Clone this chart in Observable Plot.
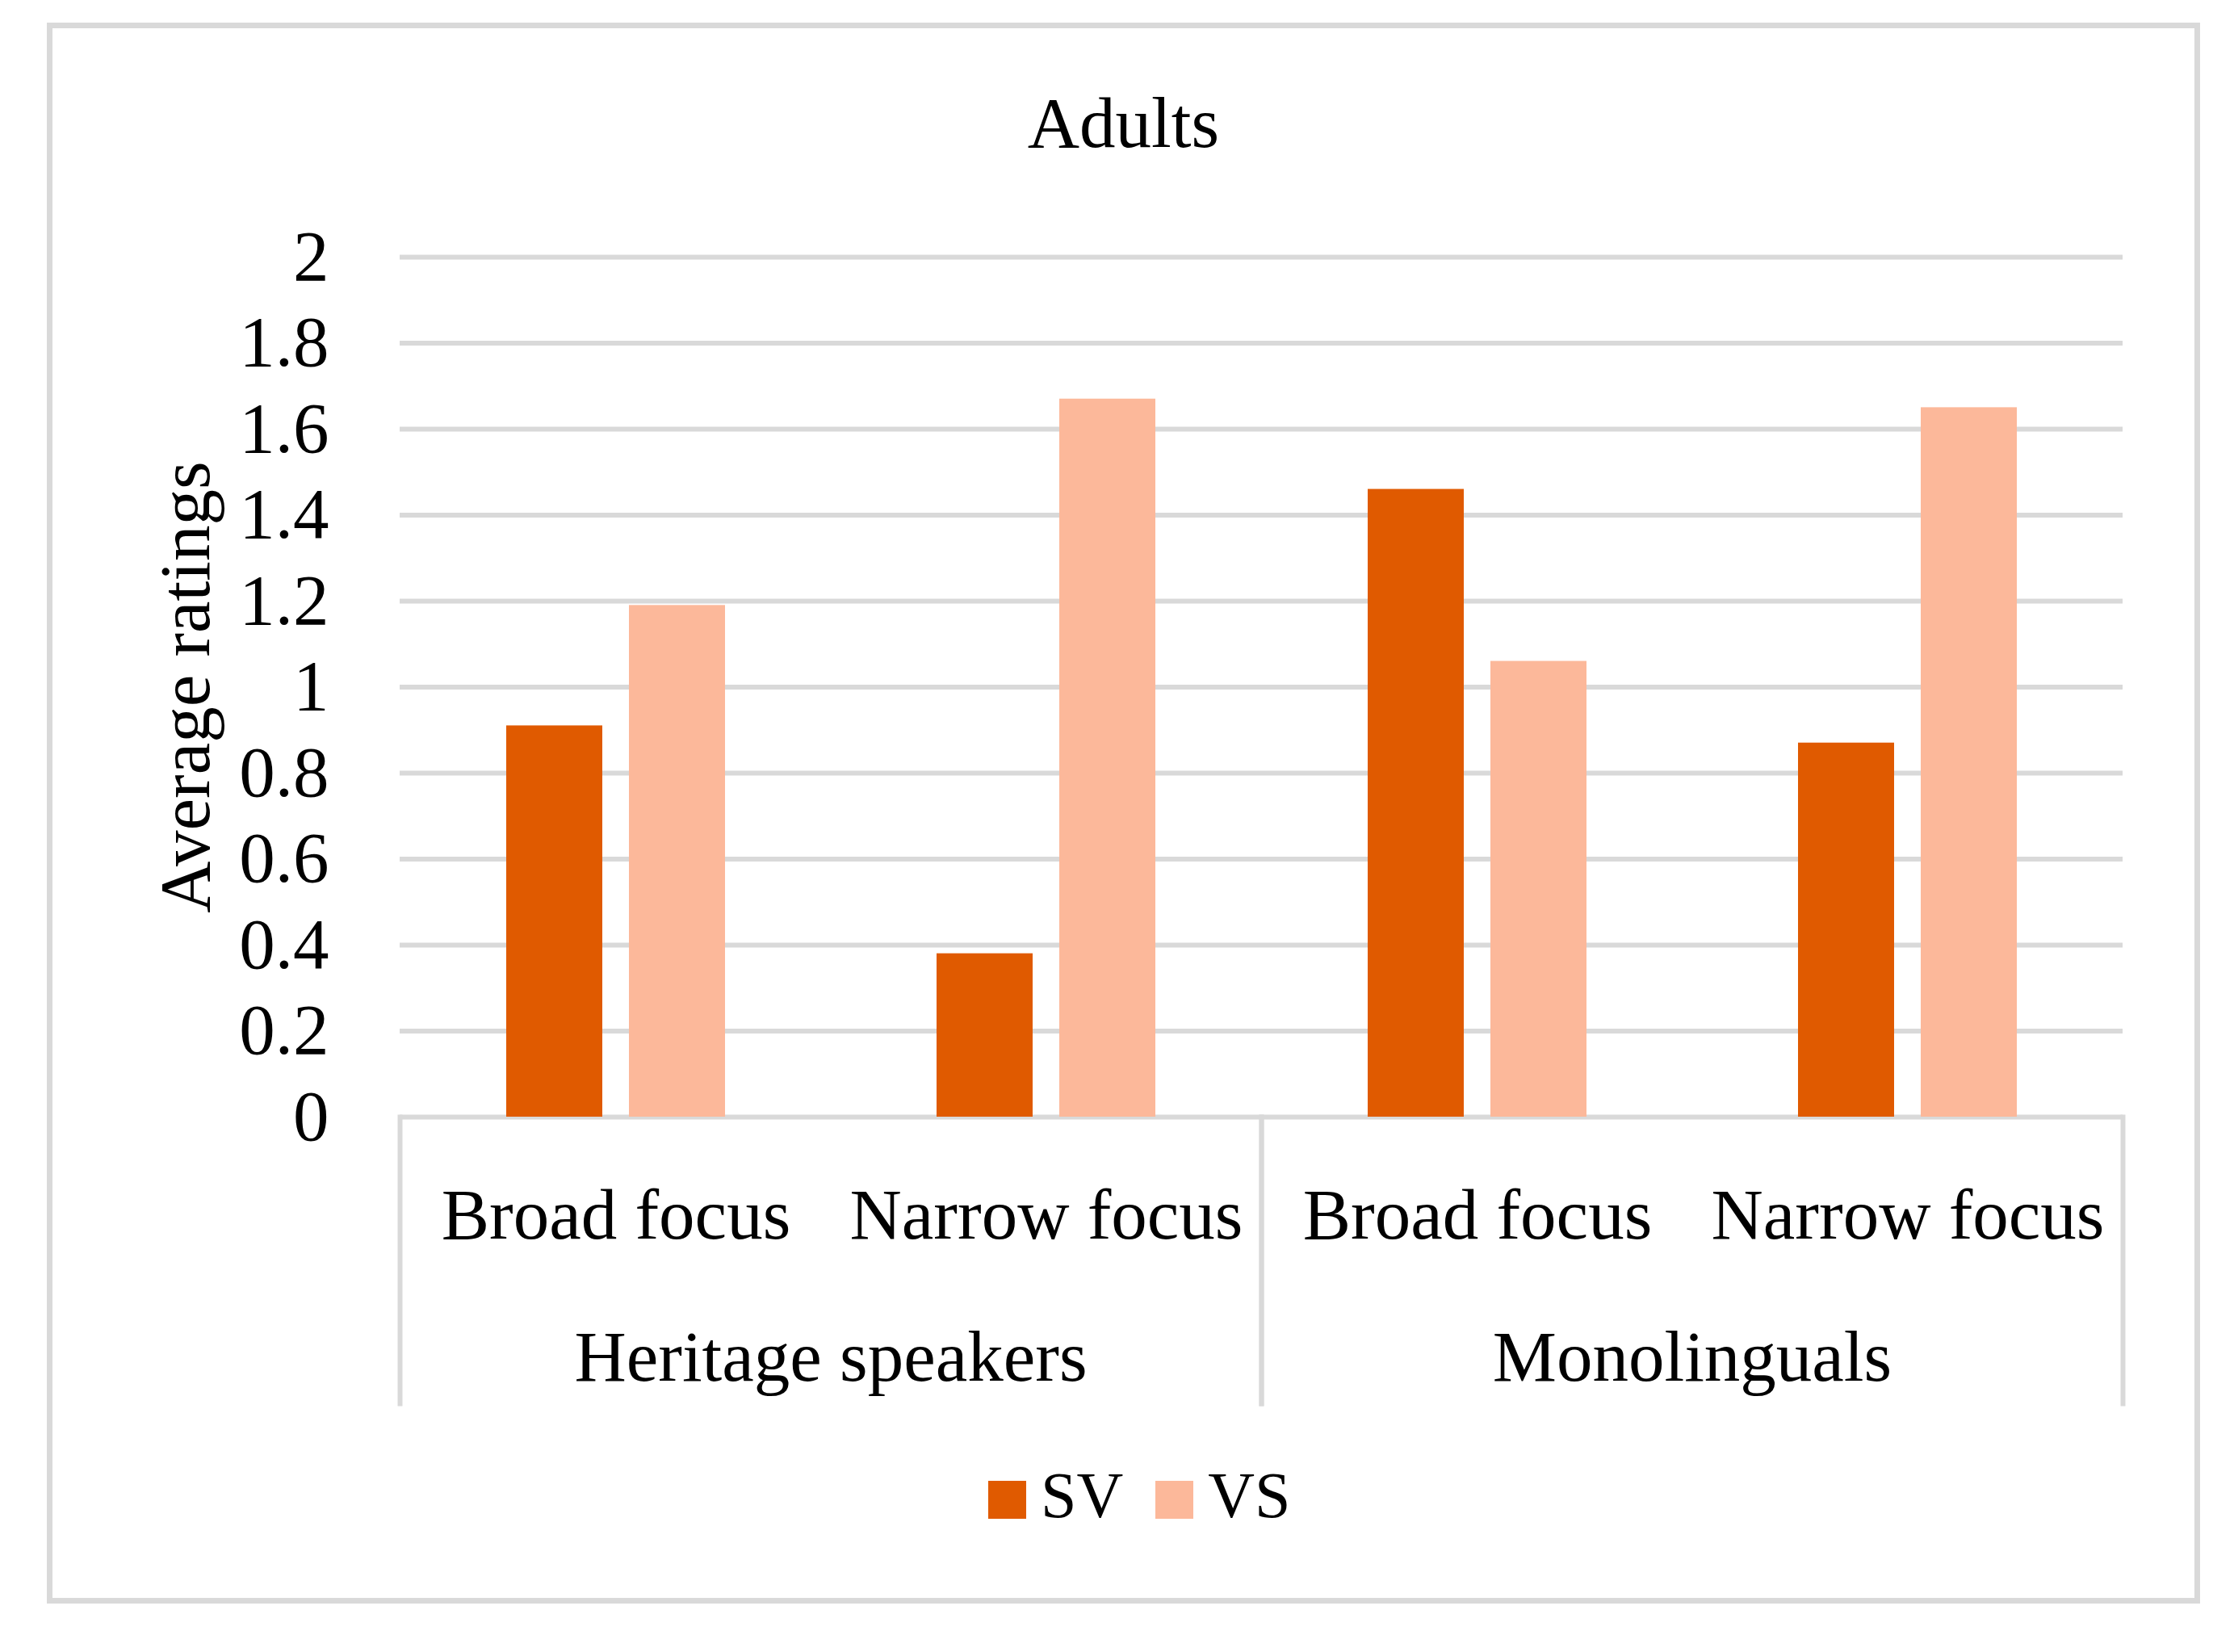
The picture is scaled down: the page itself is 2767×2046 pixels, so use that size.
<!DOCTYPE html>
<html>
<head>
<meta charset="utf-8">
<script src="https://cdn.jsdelivr.net/npm/d3@7"></script>
<script src="https://cdn.jsdelivr.net/npm/@observablehq/plot@0.6"></script>
<style>
  html, body { margin: 0; padding: 0; background: #fff; }
  #page { position: relative; width: 2767px; height: 2046px; font-family: "Liberation Serif", "Times New Roman", serif; color: #000; overflow: hidden; }
  #border { position: absolute; left: 58px; top: 28px; width: 2667px; height: 1958px; border: 7px solid #d9d9d9; box-sizing: border-box; }
  #title { position: absolute; left: 62px; width: 2659px; top: 108px; text-align: center; font-size: 89px; line-height: 89px; }
  #chart { position: absolute; left: 0; top: 250px; }
  #legend { position: absolute; top: 1812px; left: 1224px; display: flex; align-items: flex-start; font-size: 80px; line-height: 80px; }
  .sw { width: 47px; height: 47px; margin-top: 22px; margin-right: 18px; }
  .lt { margin-right: 40px; }
</style>
</head>
<body>
<div id="page">
  <div id="border"></div>
  <div id="title"></div>
  <div id="chart"></div>
  <div id="legend"></div>
</div>
<script>
// ---- data ----
const title = "Adults";
const yLabel = "Average ratings";
const groups = ["Heritage speakers", "Monolinguals"];
const foci = ["Broad focus", "Narrow focus"];
const series = ["SV", "VS"];
const seriesColors = ["#E05A00", "#FCB89A"];
// values in order: HS Broad, HS Narrow, Mono Broad, Mono Narrow
const svValues = [0.91, 0.38, 1.46, 0.87];
const vsValues = [1.19, 1.67, 1.06, 1.65];
const yTicks = [0, 0.2, 0.4, 0.6, 0.8, 1, 1.2, 1.4, 1.6, 1.8, 2];
const yTickLabels = ["0", "0.2", "0.4", "0.6", "0.8", "1", "1.2", "1.4", "1.6", "1.8", "2"];

// ---- build rows ----
function rowsFor(values) {
  const rows = [];
  let k = 0;
  for (const g of groups) for (const f of foci) rows.push({group: g, focus: f, value: values[k++]});
  return rows;
}
const svRows = rowsFor(svValues);
const vsRows = rowsFor(vsValues);

const GRID = "#d9d9d9";
const FONT = "\"Liberation Serif\", \"Times New Roman\", serif";
const FS = 89;

document.getElementById("title").textContent = title;

const chart = Plot.plot({
  width: 2767,
  height: 1510,
  marginTop: 68,
  marginBottom: 377,
  marginLeft: 494,
  marginRight: 138,
  style: {fontFamily: FONT, fontSize: FS + "px", color: "#000", background: "transparent", overflow: "visible"},
  fx: {domain: groups, padding: 0},
  x: {domain: foci, padding: 0},
  y: {domain: [0, 2]},
  marks: [
    Plot.gridY(yTicks, {stroke: GRID, strokeOpacity: 1, strokeWidth: 6}),
    Plot.frame({anchor: "left", stroke: GRID, strokeOpacity: 1, strokeWidth: 6, insetTop: 1065, insetBottom: -355}),
    Plot.frame({anchor: "right", stroke: GRID, strokeOpacity: 1, strokeWidth: 6, insetTop: 1065, insetBottom: -355}),
    Plot.barY(svRows, {fx: "group", x: "focus", y: "value", fill: seriesColors[0], insetLeft: 131, insetRight: 283}),
    Plot.barY(vsRows, {fx: "group", x: "focus", y: "value", fill: seriesColors[1], insetLeft: 283, insetRight: 131}),
    Plot.axisY(yTicks, {
      tickSize: 0, tickPadding: 88, fontSize: FS,
      tickFormat: d => yTickLabels[yTicks.indexOf(d)],
      label: yLabel, labelAnchor: "center", labelOffset: 300, labelArrow: "none"
    }),
    Plot.axisX({tickSize: 0, tickPadding: 87, fontSize: FS, label: null}),
    Plot.axisFx({anchor: "bottom", tickSize: 0, tickPadding: 263, fontSize: FS, label: null})
  ]
});
document.getElementById("chart").appendChild(chart);

// ---- legend ----
const legend = document.getElementById("legend");
series.forEach((s, i) => {
  const sw = document.createElement("div");
  sw.className = "sw";
  sw.style.background = seriesColors[i];
  const t = document.createElement("div");
  t.className = "lt";
  t.textContent = s;
  legend.appendChild(sw);
  legend.appendChild(t);
});
</script>
</body>
</html>
